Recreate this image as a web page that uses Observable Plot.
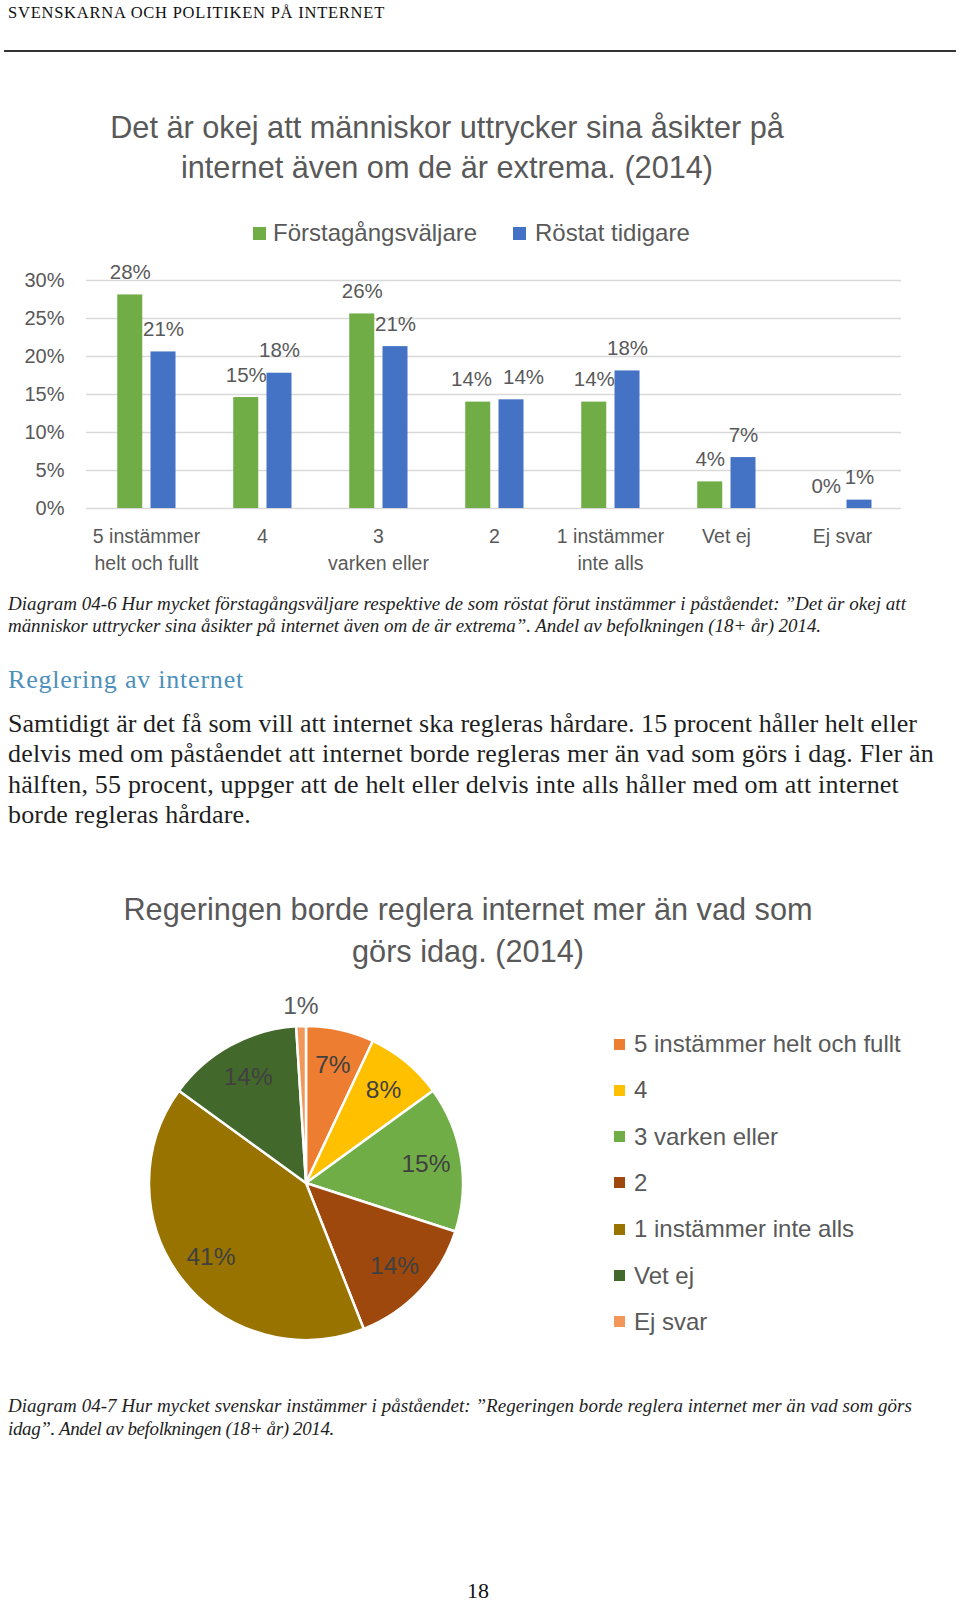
<!DOCTYPE html>
<html>
<head>
<meta charset="utf-8">
<script src="https://cdn.jsdelivr.net/npm/d3@7"></script>
<script src="https://cdn.jsdelivr.net/npm/@observablehq/plot@0.6"></script>
<style>
  html, body { margin: 0; padding: 0; background: #fff; }
  #page { position: relative; width: 960px; height: 1604px; overflow: hidden; background: #fff; }
  .abs { position: absolute; white-space: nowrap; }
  .serif { font-family: "Liberation Serif", "DejaVu Serif", serif; color: #1e1e1e; }
  .sans { font-family: "Liberation Sans", Arial, sans-serif; color: #595959; }
  .cap { font-style: italic; font-size: 19px; line-height: 22px; height: 22px; }
  .body { font-size: 26px; line-height: 30px; height: 30px; }
  .ctitle { font-size: 30.7px; line-height: 40px; height: 40px; transform: translateX(-50%); }
  .leg { font-size: 24px; line-height: 30px; height: 30px; }
  .sw { position: absolute; }
  svg { overflow: visible; }
</style>
</head>
<body>
<div id="page">
  <div class="abs serif" data-w="377" style="left:8px;top:3px;font-size:16.5px;line-height:20px;color:#111;">SVENSKARNA OCH POLITIKEN PÅ INTERNET</div>
  <div class="abs" style="left:4px;top:50px;width:952px;height:1.6px;background:#333;"></div>

  <div class="abs sans ctitle" style="left:447px;top:108px;">Det är okej att människor uttrycker sina åsikter på</div>
  <div class="abs sans ctitle" style="left:447px;top:148px;">internet även om de är extrema. (2014)</div>

  <div id="barLegend"></div>
  <div id="barChart" class="abs" style="left:0;top:250px;"></div>

  <div class="abs serif cap" data-w="898" style="left:8px;top:593px;">Diagram 04-6 Hur mycket förstagångsväljare respektive de som röstat förut instämmer i påståendet: ”Det är okej att</div>
  <div class="abs serif cap" data-w="813" style="left:8px;top:615px;">människor uttrycker sina åsikter på internet även om de är extrema”. Andel av befolkningen (18+ år) 2014.</div>

  <div class="abs serif" data-w="236" style="left:8px;top:664px;font-size:26px;line-height:32px;color:#4d8fba;">Reglering av internet</div>

  <div class="abs serif body" data-w="909" style="left:8px;top:709px;">Samtidigt är det få som vill att internet ska regleras hårdare. 15 procent håller helt eller</div>
  <div class="abs serif body" data-w="926" style="left:8px;top:739px;">delvis med om påståendet att internet borde regleras mer än vad som görs i dag. Fler än</div>
  <div class="abs serif body" data-w="891" style="left:8px;top:770px;">hälften, 55 procent, uppger att de helt eller delvis inte alls håller med om att internet</div>
  <div class="abs serif body" data-w="243" style="left:8px;top:800px;">borde regleras hårdare.</div>

  <div class="abs sans ctitle" style="left:468px;top:890px;">Regeringen borde reglera internet mer än vad som</div>
  <div class="abs sans ctitle" style="left:468px;top:932px;">görs idag. (2014)</div>

  <div id="pieChart" class="abs" style="left:0;top:950px;"></div>
  <div id="pieLegend"></div>

  <div class="abs serif cap" data-w="904" style="left:8px;top:1395px;">Diagram 04-7 Hur mycket svenskar instämmer i påståendet: ”Regeringen borde reglera internet mer än vad som görs</div>
  <div class="abs serif cap" data-w="326" style="left:8px;top:1418px;">idag”. Andel av befolkningen (18+ år) 2014.</div>

  <div class="abs serif" style="left:478px;top:1582px;font-size:22px;line-height:18px;height:18px;transform:translateX(-50%);color:#111;">18</div>
</div>

<script>
// ---------- Data ----------
const barCategories = ["5 instämmer\nhelt och fullt", "4", "3\nvarken eller", "2", "1 instämmer\ninte alls", "Vet ej", "Ej svar"];
const barSeries = ["Förstagångsväljare", "Röstat tidigare"];
const firstTimeVoters = [28.1, 14.6, 25.6, 14.0, 14.0, 3.5, 0];
const earlierVoters = [20.6, 17.8, 21.3, 14.3, 18.1, 6.7, 1.1];
const barColors = ["#70AD47", "#4472C4"];
const yTicks = [0, 5, 10, 15, 20, 25, 30];

const pieCategories = ["5 instämmer helt och fullt", "4", "3 varken eller", "2", "1 instämmer inte alls", "Vet ej", "Ej svar"];
const pieValues = [7, 8, 15, 14, 41, 14, 1];
const pieColors = ["#ED7D31", "#FFC000", "#70AD47", "#9E480E", "#997300", "#43682B", "#F1975A"];

// ---------- Bar chart ----------
const rowsA = barCategories.map((c, i) => ({cat: c, series: barSeries[0], value: firstTimeVoters[i], other: earlierVoters[i]}));
const rowsB = barCategories.map((c, i) => ({cat: c, series: barSeries[1], value: earlierVoters[i], other: firstTimeVoters[i]}));
const pct = d => Math.round(d.value) + "%";
// labels of two nearly equal bars are pushed apart so they do not collide
const close = d => Math.abs(d.value - d.other) < 0.8;

const barPlot = Plot.plot({
  width: 960,
  height: 340,
  marginLeft: 86,
  marginRight: 59,
  marginTop: 30,
  marginBottom: 82,
  style: {fontFamily: "'Liberation Sans', Arial, sans-serif", color: "#595959", background: "transparent", overflow: "visible"},
  x: {domain: barCategories, padding: 0, label: null},
  y: {domain: [0, 30], label: null},
  color: {domain: barSeries, range: barColors},
  marks: [
    Plot.gridY(yTicks, {stroke: "#d9d9d9", strokeOpacity: 1, strokeWidth: 1.6}),
    Plot.axisY(yTicks, {tickSize: 0, tickPadding: 22, tickFormat: d => d + "%", fontSize: 20, label: null}),
    Plot.axisX({tickSize: 0, tickPadding: 15, fontSize: 19.5, lineHeight: 1.4, label: null}),
    Plot.barY(rowsA, {x: "cat", y: "value", fill: "series", insetLeft: 29.25, insetRight: 61.75}),
    Plot.barY(rowsB, {x: "cat", y: "value", fill: "series", insetLeft: 62.5, insetRight: 28.5}),
    Plot.text(rowsA.filter(d => !close(d)), {x: "cat", y: "value", text: pct, dx: -16.25, dy: -22.5, fontSize: 20.5, fill: "#595959"}),
    Plot.text(rowsA.filter(close), {x: "cat", y: "value", text: pct, dx: -23, dy: -22.5, fontSize: 20.5, fill: "#595959"}),
    Plot.text(rowsB.filter(d => !close(d)), {x: "cat", y: "value", text: pct, dx: 17, dy: -22.5, fontSize: 20.5, fill: "#595959"}),
    Plot.text(rowsB.filter(close), {x: "cat", y: "value", text: pct, dx: 29, dy: -22.5, fontSize: 20.5, fill: "#595959"})
  ]
});
document.getElementById("barChart").append(barPlot);

// bar legend
const barLegend = document.getElementById("barLegend");
const barLegendPos = [{sx: 253, tx: 273}, {sx: 513, tx: 535}];
barSeries.forEach((s, i) => {
  const sw = document.createElement("div");
  sw.className = "sw";
  Object.assign(sw.style, {left: barLegendPos[i].sx + "px", top: "227px", width: "13px", height: "13px", background: barColors[i]});
  barLegend.append(sw);
  const t = document.createElement("div");
  t.className = "abs sans leg";
  Object.assign(t.style, {left: barLegendPos[i].tx + "px", top: "218px"});
  t.textContent = s;
  barLegend.append(t);
});

// ---------- Pie chart ----------
const arcs = d3.pie().sort(null).value(d => d)(pieValues);
const pieRows = pieCategories.map((c, i) => ({
  cat: c, value: pieValues[i], color: pieColors[i],
  start: arcs[i].startAngle, end: arcs[i].endAngle,
  mid: (arcs[i].startAngle + arcs[i].endAngle) / 2
}));
const labelR = d => d.value < 3 ? 1.13 : 0.77;

const slices = (index, scales) => {
  const cx = scales.x(0), cy = scales.y(0);
  const r = scales.x(1) - scales.x(0);
  const arc = d3.arc().innerRadius(0).outerRadius(r);
  const g = d3.create("svg:g").attr("transform", `translate(${cx},${cy})`);
  g.selectAll("path").data(pieRows).join("path")
    .attr("d", d => arc({startAngle: d.start, endAngle: d.end}))
    .attr("fill", d => d.color)
    .attr("stroke", "#fff")
    .attr("stroke-width", 2.5)
    .attr("stroke-linejoin", "round");
  return g.node();
};

const piePlot = Plot.plot({
  width: 620,
  height: 420,
  marginLeft: 149,
  marginRight: 157,
  marginTop: 76,
  marginBottom: 30,
  style: {fontFamily: "'Liberation Sans', Arial, sans-serif", color: "#595959", background: "transparent", overflow: "visible"},
  x: {domain: [-1, 1], axis: null},
  y: {domain: [-1, 1], axis: null},
  marks: [
    slices,
    Plot.text(pieRows, {
      x: d => labelR(d) * Math.sin(d.mid),
      y: d => labelR(d) * Math.cos(d.mid),
      text: d => d.value + "%",
      fontSize: 24.5,
      fill: d => d.value < 3 ? "#595959" : "#404040"
    })
  ]
});
document.getElementById("pieChart").append(piePlot);

// pie legend
const pieLegend = document.getElementById("pieLegend");
pieCategories.forEach((c, i) => {
  const yc = 1044 + i * 46.3;
  const sw = document.createElement("div");
  sw.className = "sw";
  Object.assign(sw.style, {left: "614px", top: (yc - 5.5) + "px", width: "11px", height: "11px", background: pieColors[i]});
  pieLegend.append(sw);
  const t = document.createElement("div");
  t.className = "abs sans leg";
  Object.assign(t.style, {left: "634px", top: (yc - 15) + "px"});
  t.textContent = c;
  pieLegend.append(t);
});

// ---------- fit serif text lines to the reference widths ----------
document.querySelectorAll("[data-w]").forEach(el => {
  const target = +el.dataset.w;
  const w = el.getBoundingClientRect().width;
  const n = el.textContent.length;
  el.style.letterSpacing = ((target - w) / n) + "px";
});
</script>
</body>
</html>
